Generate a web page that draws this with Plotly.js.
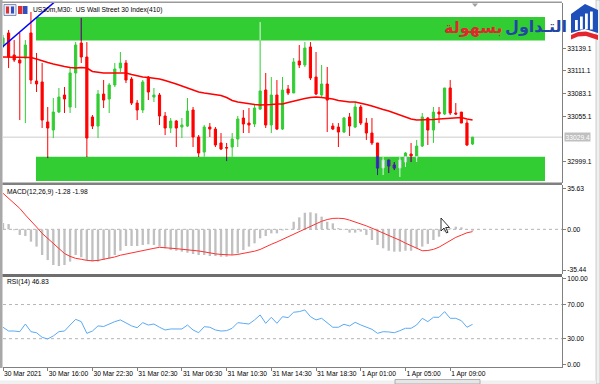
<!DOCTYPE html>
<html><head><meta charset="utf-8">
<script src="https://cdn.plot.ly/plotly-3.0.1.min.js"></script>
<style>html,body{margin:0;padding:0;background:#fff;overflow:hidden}#chart{width:600px;height:384px}</style>
</head><body><div id="chart"></div>
<script>
// ---------------- data ----------------
const openP = [33141.9,33158.0,33130.8,33124.6,33127.1,33158.0,33098.7,33097.5,33048.1,33038.2,
 33060.4,33081.4,33066.6,33108.6,33145.6,33128.3,33054.3,33043.1,33082.6,33076.5,
 33093.8,33114.7,33120.9,33101.2,33071.5,33062.9,33103.6,33078.9,33081.4,33055.5,
 33040.7,33049.3,33041.9,33043.1,33062.9,33029.6,33011.0,33041.9,33039.4,33022.2,
 33016.6,33017.2,33027.1,33053.0,33046.8,33045.6,33064.1,33087.6,33044.4,33081.4,
 33039.4,33088.8,33083.9,33123.4,33118.5,33140.7,33103.6,33081.4,33095.0,33043.1,
 33041.9,33035.7,33054.3,33041.9,33066.6,33046.8,33034.5,33022.2,32991.3,33001.2,
 32995.0,32991.3,32998.7,33008.6,33004.9,33018.4,33053.0,33038.2,33060.4,33058.0,
 33090.1,33059.2,33060.4,33046.8,33020.9];
const highP = [33155.5,33161.7,33149.3,33158.0,33149.3,33183.9,33133.3,33120.9,33066.6,33077.7,
 33090.1,33091.3,33116.0,33146.8,33176.5,33146.8,33056.7,33087.6,33099.9,33096.2,
 33120.9,33134.5,33124.6,33103.6,33075.2,33099.9,33104.9,33090.1,33083.9,33060.4,
 33053.0,33050.5,33053.0,33077.7,33066.6,33032.0,33044.4,33046.8,33041.9,33034.5,
 33022.2,33034.5,33055.5,33062.9,33065.4,33069.1,33171.5,33108.6,33103.6,33099.9,
 33103.6,33093.8,33127.1,33143.1,33146.8,33146.8,33134.5,33118.5,33116.0,33046.8,
 33046.8,33054.3,33059.2,33072.8,33069.1,33053.0,33053.0,33022.2,33004.9,33001.2,
 32998.7,33004.9,33011.0,33022.2,33025.9,33059.2,33054.3,33066.6,33066.6,33090.1,
 33099.9,33071.5,33060.4,33050.5,33029.6];
const lowP = [33139.4,33114.7,33122.2,33050.5,33046.8,33095.0,33085.1,33040.7,33003.6,33028.3,
 33059.2,33059.2,33059.2,33065.4,33120.9,33004.9,33039.4,33028.3,33065.4,33059.2,
 33091.3,33109.8,33096.2,33069.1,33050.5,33059.2,33075.2,33072.8,33044.4,33032.0,
 33034.5,33017.2,33028.3,33041.9,33017.2,33004.9,33004.9,33029.6,33017.2,33013.5,
 32999.9,33004.9,33017.2,33034.5,33034.5,33041.9,33062.9,33040.7,33034.5,33038.2,
 33038.2,33081.4,33083.9,33114.7,33116.0,33099.9,33081.4,33078.9,33035.7,33038.2,
 33017.2,33034.5,33030.8,33040.7,33044.4,33025.9,33019.7,32982.6,32982.6,32985.1,
 32988.8,32980.2,32992.5,32998.7,32998.7,33017.2,33019.7,33022.2,33046.8,33056.7,
 33056.7,33056.7,33046.8,33018.4,33019.7];
const closeP = [33151.8,33128.3,33124.6,33120.9,33143.1,33099.9,33095.0,33050.5,33040.7,33060.4,
 33078.9,33076.5,33108.6,33143.1,33128.3,33028.3,33043.1,33082.6,33075.2,33093.8,
 33113.5,33120.9,33099.9,33071.5,33062.9,33097.5,33085.1,33081.4,33055.5,33040.7,
 33049.3,33040.7,33044.4,33061.7,33029.6,33009.8,33041.9,33039.4,33019.7,33014.7,
 33016.0,33027.1,33051.8,33045.6,33044.4,33065.4,33086.4,33044.4,33081.4,33039.4,
 33087.6,33083.9,33122.2,33118.5,33139.4,33102.4,33082.6,33095.0,33075.2,33039.4,
 33035.7,33053.0,33043.1,33066.6,33046.8,33034.5,33022.2,32991.3,33001.2,32993.8,
 32991.3,33001.2,33009.8,33006.1,33018.4,33054.3,33038.2,33060.4,33058.0,33090.1,
 33059.2,33058.0,33046.8,33019.7,33029.4];
const maLine = [33128.3,33128.3,33128.3,33128.3,33128.3,33127.7,33125.9,33123.4,33121.5,33119.7,
 33117.8,33116.6,33115.4,33114.7,33115.4,33114.7,33110.4,33109.2,33108.6,33108.6,
 33108.6,33108.6,33108.6,33106.7,33104.9,33103.6,33103.0,33102.4,33101.2,33099.3,
 33097.5,33095.0,33092.5,33090.1,33087.6,33085.1,33083.9,33082.6,33082.0,33080.8,
 33078.3,33074.6,33072.8,33071.5,33070.3,33069.7,33069.1,33069.1,33069.7,33070.3,
 33070.3,33072.2,33074.0,33075.2,33077.1,33078.3,33078.9,33078.3,33077.7,33076.5,
 33074.6,33073.4,33072.8,33072.8,33071.5,33069.7,33067.8,33065.4,33063.5,33061.7,
 33059.2,33056.7,33054.3,33051.8,33050.5,33050.5,33050.5,33051.2,33051.8,33052.4,
 33053.0,33053.6,33053.6,33051.8,33050.5];
const macdHist = [5.5,4.6,-0.8,-4.9,-5.8,-10.7,-15,-22.3,-26.7,-31,
 -31.9,-31,-28,-22.3,-24.3,-26.7,-28,-28,-26.7,-25.2,
 -22.3,-18.6,-14.5,-14.5,-14.5,-13.6,-13,-13.6,-15,-16.5,
 -18,-18.6,-19.4,-20.3,-21.4,-22.3,-22.3,-23.2,-23.2,-23.8,
 -23.8,-22.3,-20.9,-18,-15,-12.2,-7.8,-5.8,-3.5,-3.5,
 -1,0.3,6.6,10.4,14.4,14.8,13.9,11,6.6,5.2,
 1,0.3,-2.9,-2.9,-2,-4.9,-9.3,-13.6,-16.5,-18.6,
 -19.4,-19.4,-18.6,-18.6,-16.5,-15,-12.7,-9.3,-6.4,-2,
 1,2.3,1.7,0.3,-1.28];
const macdSignal = [31.3,27,22.5,18.2,12.5,7.5,2,-3.5,-8,-12.2,
 -16.5,-21,-23.5,-25.2,-26,-27,-27.3,-27,-26,-25.2,
 -24,-22.5,-21.4,-20.5,-19.5,-18.6,-17.6,-16.5,-15.6,-15.8,
 -16.3,-16.8,-17.3,-17.7,-18,-18.8,-19.6,-20.7,-21.3,-21.8,
 -22.2,-22.3,-21.8,-21,-20.3,-19,-17.5,-15,-13,-11,
 -8.7,-6.5,-4.2,-2,0.5,3,5.2,7,8.5,9.5,
 9.6,9.3,8,6.5,5,3,1,-1,-3,-5.5,
 -7.5,-9.5,-12,-14,-16,-18.6,-18.4,-17.4,-15.5,-12.5,
 -10,-7,-5,-3,-1.98];
const rsiLine = [43.4,39,39,38.2,47.2,38.2,37,31.6,29.7,33.2,
 38.2,39,46,52.7,50,36.3,39,45,44.3,47.2,
 50,52,48.8,45,42.9,48.8,46,47.2,43.4,40.2,
 41.4,41,41.4,46,40.2,37,44.1,43.4,40.2,39,
 39.4,42.2,48.8,48,47.2,52,57.8,48,55.1,48,
 55.8,54.7,61,61.7,63.7,55.8,52,53.9,48.8,43.4,
 43.4,46.9,44.9,49.2,46.1,43.4,41,36.3,38.2,37.9,
 37,39.4,42.2,42.2,46.1,53.9,50,55.1,55.1,61.7,
 53.9,53.9,51.1,43.4,46.83];
const xTickIdx = [0,8,16,24,32,40,48,56,64,72,80];
const xTickText = ['30 Mar 2021','30 Mar 16:00','30 Mar 22:30','31 Mar 02:30','31 Mar 06:30',
 '31 Mar 10:30','31 Mar 14:30','31 Mar 18:30','1 Apr 01:00','1 Apr 05:00','1 Apr 09:00'];
const priceTicks = [33139.1,33111.1,33083.1,33055.1,32999.1];
const macdTicks = [35.63,0,-35.44];
const rsiTicks = [100,70,30,0];
const rsiLevels = [70,30];
const zoneTop = [33148.7,33177.7];
const zoneBottom = [32975.3,33005.3];
const zoneIdx = [5.9,96.96];
const trendIdx = [-0.05,10];
const trendPrice = [33141.0,33200.9];

// ---------------- helpers ----------------
const W=600,H=384;
const X = p => p/W, Y = p => 1 - p/H;
const N = closeP.length;
const idx = Array.from({length:N},(_,i)=>i);

// candles inside the zones are drawn inverted (as the terminal does)
const ovO=[],ovH=[],ovL=[],ovC=[];
const wDnX=[],wDnY=[],wUpX=[],wUpY=[];
for(let i=0;i<N;i++){
  ovO.push(null);ovH.push(null);ovL.push(null);ovC.push(null);
  if(i<zoneIdx[0]||i>zoneIdx[1]) continue;
  const up = closeP[i]>=openP[i];
  for(const z of [zoneTop,zoneBottom]){
    const wl=Math.max(lowP[i],z[0]), wh=Math.min(highP[i],z[1]);
    if(wl<wh){ if(up){wUpX.push(i,i,null);wUpY.push(wl,wh,null);} else {wDnX.push(i,i,null);wDnY.push(wl,wh,null);} }
    const bt=Math.min(Math.max(openP[i],closeP[i]),z[1]);
    const bb=Math.max(Math.min(openP[i],closeP[i]),z[0]);
    if(bb<bt){ ovH[i]=bt; ovL[i]=bb; ovO[i]=up?bb:bt; ovC[i]=up?bt:bb; }
  }
}

const traces = [
 {type:'candlestick',x:idx,open:openP,high:highP,low:lowP,close:closeP,xaxis:'x',yaxis:'y',
  increasing:{line:{color:'#32cd32',width:1},fillcolor:'#32cd32'},
  decreasing:{line:{color:'#ff0000',width:1},fillcolor:'#ff0000'},hoverinfo:'skip'},
 {type:'scatter',mode:'lines',x:wDnX,y:wDnY,line:{color:'#2a2aa0',width:1},xaxis:'x',yaxis:'y',hoverinfo:'skip'},
 {type:'scatter',mode:'lines',x:wUpX,y:wUpY,line:{color:'#e8f8e8',width:1},xaxis:'x',yaxis:'y',hoverinfo:'skip'},
 {type:'candlestick',x:idx,open:ovO,high:ovH,low:ovL,close:ovC,xaxis:'x',yaxis:'y',
  increasing:{line:{color:'#c8c8e0',width:1},fillcolor:'#ffffff'},
  decreasing:{line:{color:'#3232c8',width:1},fillcolor:'#3a3ad0'},hoverinfo:'skip'},
 {type:'scatter',mode:'lines',x:idx,y:maLine,line:{color:'#ff0000',width:1.6},xaxis:'x',yaxis:'y',hoverinfo:'skip'},
 {type:'scatter',mode:'lines',x:trendIdx,y:trendPrice,line:{color:'#0000ff',width:1.5},xaxis:'x',yaxis:'y',hoverinfo:'skip'},
 {type:'bar',x:idx,y:macdHist,width:0.42,marker:{color:'#c0c0c0',line:{width:0}},xaxis:'x',yaxis:'y2',hoverinfo:'skip'},
 {type:'scatter',mode:'lines',x:idx,y:macdSignal,line:{color:'#ff3030',width:1},xaxis:'x',yaxis:'y2',hoverinfo:'skip'},
 {type:'scatter',mode:'lines',x:idx,y:rsiLine,line:{color:'#5aaaf5',width:1},xaxis:'x',yaxis:'y3',hoverinfo:'skip'}
];

const axFont = {family:'"Liberation Sans", Arial, sans-serif', size:6.7, color:'#000'};
const yBase = {side:'right',anchor:'x',ticks:'outside',ticklen:3,tickcolor:'#808080',showgrid:false,
  zeroline:false,showline:true,linecolor:'#808080',linewidth:1,tickfont:axFont,fixedrange:true};

function path(pts){ return pts.map((p,k)=>(k?'L':'M')+X(p[0])+','+Y(p[1])).join(' ')+' Z'; }
const pr = (x0,y0,x1,y1,fill,line,lw)=>({type:'rect',xref:'paper',yref:'paper',x0:X(x0),x1:X(x1),y0:Y(y1),y1:Y(y0),
   fillcolor:fill,line:{color:line||fill,width:lw||0},layer:'above'});

const shapes = [
 {type:'rect',xref:'x',yref:'y',x0:zoneIdx[0],x1:zoneIdx[1],y0:zoneTop[0],y1:zoneTop[1],fillcolor:'#32cd32',line:{width:0},layer:'below'},
 {type:'rect',xref:'x',yref:'y',x0:zoneIdx[0],x1:zoneIdx[1],y0:zoneBottom[0],y1:zoneBottom[1],fillcolor:'#32cd32',line:{width:0},layer:'below'},
 {type:'line',xref:'paper',yref:'y',x0:X(3),x1:X(562),y0:closeP[N-1],y1:closeP[N-1],line:{color:'#cccccc',width:1},layer:'below'},
 {type:'line',xref:'paper',yref:'y2',x0:X(3),x1:X(562),y0:0,y1:0,line:{color:'#b4b4b4',width:1,dash:'dot'},layer:'below'},
 ...rsiLevels.map(v=>({type:'line',xref:'paper',yref:'y3',x0:X(3),x1:X(562),y0:v,y1:v,line:{color:'#b4b4b4',width:1,dash:'dot'},layer:'below'})),
 pr(0,1.5,562,3,'#9a9a9a'),
 pr(0,0,2.5,368,'#a8a8a8'),
 pr(2.5,182.5,562,185,'#808080'),
 pr(2.5,274,562,277,'#6e6e6e'),
 pr(596,0,600,384,'#f0f0f0','#b0b0b0',0.6),
 pr(0,380.5,596,384,'#f0f0f0'),
 pr(395,379.5,480,384,'#e6e6e6','#a0a0a0',0.8),
 pr(4,4.5,16,15.5,'#e4e8f4','#6a78a8',0.8),
 pr(6,6.5,9,13.5,'#e03030'),
 pr(11,6.5,14,13.5,'#3050c0'),
 pr(18,6,22.5,14,'#e03030'),
 pr(23,6,27.5,14,'#3050c0'),
 {type:'path',xref:'paper',yref:'paper',path:path([[472,3.5],[478,3.5],[475,7]]),fillcolor:'#a0a0a0',line:{width:0},layer:'above'},
 {type:'path',xref:'paper',yref:'paper',path:path([[571,14],[585,4],[598,10],[598,33],[585,29],[571,33]]),fillcolor:'#1f4fb8',line:{width:0},layer:'above'},
 pr(575,20,577.8,30,'#ffffff'),
 pr(580,16.5,582.8,29.5,'#ffffff'),
 pr(585,13.5,587.8,29,'#ffffff'),
 pr(590,11.5,592.8,29.5,'#ffffff'),
 {type:'path',xref:'paper',yref:'paper',path:path([[571,35],[578,32],[586,31.5],[598,35],[598,40],[586,36],[578,36.5],[571,39.5]]),fillcolor:'#e3262d',line:{width:0},layer:'above'},
 {type:'path',xref:'paper',yref:'paper',path:path([[441,218],[441,231],[444,228],[446.5,233],[448,232.3],[445.7,227.5],[449.5,227.5]]),fillcolor:'#ffffff',line:{color:'#000',width:0.8},layer:'above'}
];

const ann = (x,y,text,extra)=>Object.assign({xref:'paper',yref:'paper',x:X(x),y:Y(y),xanchor:'left',yanchor:'middle',
  text,showarrow:false,font:axFont},extra||{});

const annotations = [
 ann(31,10,'US30m,M30:  US Wall Street 30 Index(410)'),
 ann(5,191.5,'MACD(12,26,9) -1.28 -1.98'),
 ann(5,281.5,'RSI(14) 46.83'),
 {xref:'paper',yref:'y',x:X(564),y:closeP[N-1],xanchor:'left',yanchor:'middle',text:closeP[N-1].toFixed(1),
  showarrow:false,font:Object.assign({},axFont,{color:'#ffffff'}),bgcolor:'#c0c0c0',borderpad:0.5},
 ann(505,27,'<b>بسهولة</b>',{xanchor:'right',font:{family:'"DejaVu Sans", sans-serif',size:16,color:'#e3262d'}}),
 ann(569,26,'<b>التـداول</b>',{xanchor:'right',font:{family:'"DejaVu Sans", sans-serif',size:16,color:'#2346a6'}})
];

const layout = {
 width:W,height:H,margin:{l:0,r:0,t:0,b:0},paper_bgcolor:'#ffffff',plot_bgcolor:'#ffffff',
 showlegend:false,boxgap:0.45,font:axFont,
 xaxis:{domain:[X(3),X(562)],range:[0,100],anchor:'y3',rangeslider:{visible:false},
   tickmode:'array',tickvals:xTickIdx,ticktext:xTickText,ticks:'outside',ticklen:3,tickcolor:'#808080',
   tickangle:0,automargin:false,ticklabelposition:'outside right',showgrid:false,zeroline:false,showline:true,linecolor:'#808080',
   tickfont:axFont,fixedrange:true},
 yaxis:Object.assign({},yBase,{domain:[Y(183),Y(3)],range:[32972.8,33195.0],tickmode:'array',
   tickvals:priceTicks,ticktext:priceTicks.map(v=>v.toFixed(1))}),
 yaxis2:Object.assign({},yBase,{domain:[Y(274),Y(185)],range:[-38.8,38.5],tickmode:'array',
   tickvals:macdTicks,ticktext:macdTicks.map(v=>v.toFixed(2))}),
 yaxis3:Object.assign({},yBase,{domain:[Y(367),Y(277)],range:[-3.17,102.3],tickmode:'array',
   tickvals:rsiTicks,ticktext:rsiTicks.map(v=>v.toFixed(2))}),
 shapes,annotations
};

Plotly.newPlot('chart',traces,layout,{staticPlot:true,displayModeBar:false});
</script></body></html>
